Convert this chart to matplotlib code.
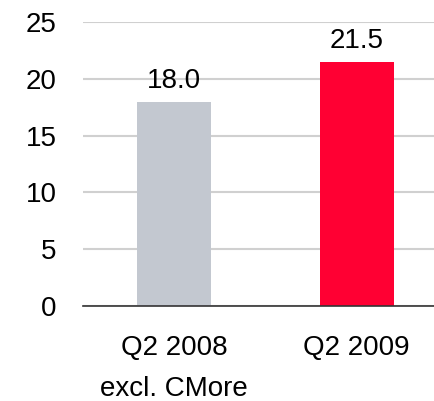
import matplotlib
matplotlib.use('Agg')
import matplotlib.pyplot as plt

plt.rcParams['font.family'] = ['Liberation Sans', 'DejaVu Sans']

categories = ['Q2 2008\nexcl. CMore', 'Q2 2009']
values = [18.0, 21.5]
value_labels = ['18.0', '21.5']
colors = ['#C3C8D0', '#FF0033']
yticks = [0, 5, 10, 15, 20, 25]

fs = 20

fig = plt.figure(figsize=(4.35, 4.01), dpi=100)
ax = fig.add_axes([83 / 435, 1 - 306 / 401, 1 - 83 / 435, 284 / 401])

x = range(len(categories))
bars = ax.bar(x, values, width=0.405, color=colors, zorder=2)
for xi, v, lab in zip(x, values, value_labels):
    ax.annotate(lab, xy=(xi, v), xytext=(0, 10), textcoords='offset points',
                ha='center', va='baseline', fontsize=fs)

ax.set_ylim(0, 25)
ax.set_xlim(-0.5, 1.43)
ax.set_yticks(yticks)
ax.set_yticklabels([str(t) for t in yticks], fontsize=fs)
ax.set_xticks(list(x))
ax.set_xticklabels(categories, fontsize=fs, linespacing=1.75, va='top')
ax.tick_params(axis='both', length=0)
ax.tick_params(axis='y', pad=19)
ax.tick_params(axis='x', pad=21)

ax.grid(axis='y', color='#D0D0D0', linewidth=1.5, zorder=0)
for s in ['top', 'right', 'left']:
    ax.spines[s].set_visible(False)
ax.spines['bottom'].set_color('#333333')
ax.spines['bottom'].set_linewidth(1.2)
ax.spines['bottom'].set_zorder(3)

fig.savefig('out.png', dpi=100)
